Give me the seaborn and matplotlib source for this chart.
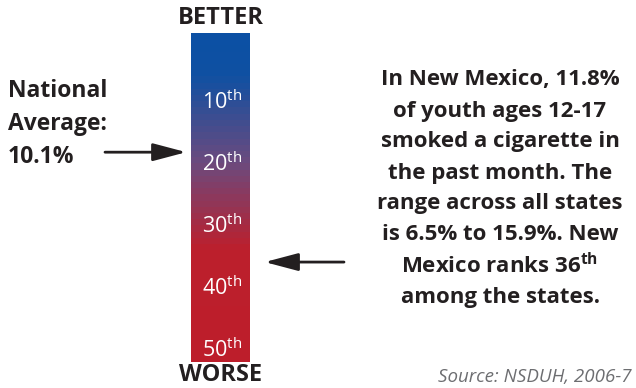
import numpy as np
import pandas as pd
import matplotlib
matplotlib.use("Agg")
import matplotlib.pyplot as plt
from matplotlib.colors import LinearSegmentedColormap
import seaborn as sns

# state rank scale shown on the bar (top = better, bottom = worse)
bar_ranks = np.arange(0, 53)
tick_ranks = [10, 20, 30, 40, 50]
tick_labels = ["10$^{\\mathrm{th}}$", "20$^{\\mathrm{th}}$", "30$^{\\mathrm{th}}$",
               "40$^{\\mathrm{th}}$", "50$^{\\mathrm{th}}$"]
national_avg_rank = 18.3
state_rank = 36

left_lines = ["National", "Average:", "10.1%"]
right_lines = [
    "In New Mexico, 11.8%",
    "of youth ages 12-17",
    "smoked a cigarette in",
    "the past month. The",
    "range across all states",
    "is 6.5% to 15.9%. New",
    "Mexico ranks 36$^{\\mathbf{th}}$",
    "among the states.",
]
source = "Source: NSDUH, 2006-7"

sns.set_theme(style="white")
plt.rcParams["font.family"] = ["Open Sans", "DejaVu Sans"]
plt.rcParams["mathtext.fontset"] = "custom"
plt.rcParams["mathtext.rm"] = "Open Sans"
plt.rcParams["mathtext.bf"] = "Open Sans:bold"

W, H = 636, 388
fig = plt.figure(figsize=(6.36, 3.88), dpi=100)
fig.patch.set_facecolor("white")


def fx(px):
    return px / W


def fy(py):
    return 1 - py / H


cmap = LinearSegmentedColormap.from_list(
    "better_worse",
    [(0.0, "#0b50a4"), (0.12, "#0f50a2"), (0.39, "#6b4a7e"),
     (0.66, "#bc1f2c"), (1.0, "#bd1e2b")],
)

bar_x0, bar_x1, bar_y0, bar_y1 = 191, 250, 33, 362
ax = fig.add_axes([fx(bar_x0), fy(bar_y1), fx(bar_x1 - bar_x0), (bar_y1 - bar_y0) / H])
df = pd.DataFrame({"rank": bar_ranks})
sns.heatmap(df, cmap=cmap, vmin=bar_ranks.min(), vmax=bar_ranks.max(), cbar=False,
            xticklabels=False, yticklabels=False, ax=ax)
ax.axis("off")

for r, lab in zip(tick_ranks, tick_labels):
    ax.text(0.52, r + 1.1, lab, color="white", fontsize=15.5, ha="center", va="center")

fig.text(fx(221), fy(18), "BETTER", fontsize=17, fontweight="bold", color="#231f20",
         ha="center", va="center")
fig.text(fx(221), fy(375), "WORSE", fontsize=17, fontweight="bold", color="#231f20",
         ha="center", va="center")

for i, line in enumerate(left_lines):
    fig.text(fx(8), fy(91 + 33 * i), line, fontsize=16.5, fontweight="bold",
             color="#231f20", ha="left", va="center")

for i, line in enumerate(right_lines):
    fig.text(fx(500), fy(80 + 31 * i), line, fontsize=16, fontweight="bold",
             color="#231f20", ha="center", va="center")

fig.text(fx(632), fy(377), source, fontsize=13.5, style="italic", color="#6d6e71",
         ha="right", va="center")

arrow = dict(arrowstyle="-|>,head_length=1.7,head_width=0.45", color="#231f20", lw=2,
             shrinkA=0, shrinkB=0)
ax.annotate("", xy=(-0.08, national_avg_rank + 0.9), xycoords="data",
            xytext=(fx(105), national_avg_rank + 0.9),
            textcoords=("figure fraction", "data"), arrowprops=arrow,
            annotation_clip=False)
ax.annotate("", xy=(1.25, state_rank + 0.9), xycoords="data",
            xytext=(fx(344), state_rank + 0.9),
            textcoords=("figure fraction", "data"), arrowprops=arrow,
            annotation_clip=False)

fig.savefig("out.png", dpi=100)
